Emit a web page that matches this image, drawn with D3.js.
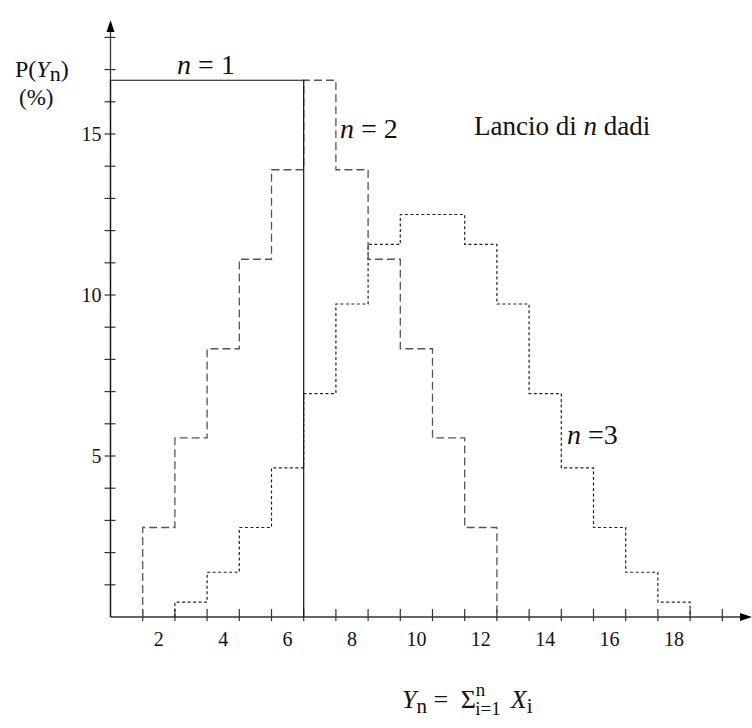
<!DOCTYPE html>
<html><head><meta charset="utf-8">
<script src="https://cdn.jsdelivr.net/npm/d3@7/dist/d3.min.js"></script>
<style>body{margin:0;background:#fff}svg{display:block}svg text{font-family:'Liberation Serif','Times New Roman',Times,serif}</style>
</head><body><svg id="c" width="752" height="728"></svg>
<script>
// Data (percent); the bar for value k is centred on k
const n1Values = [16.67, 16.67, 16.67, 16.67, 16.67, 16.67];           // Y = 1..6
const n1Start = 1;
const n2Values = [2.78, 5.56, 8.33, 11.11, 13.89, 16.67, 13.89, 11.11, 8.33, 5.56, 2.78]; // Y = 2..12
const n2Start = 2;
const n3Values = [0.46, 1.39, 2.78, 4.63, 6.94, 9.72, 11.57, 12.50, 12.50, 11.57, 9.72, 6.94, 4.63, 2.78, 1.39, 0.46]; // Y = 3..18
const n3Start = 3;
const xTickValues = d3.range(1.5, 20, 1);      // tick marks between bins
const xTickLabels = [2, 4, 6, 8, 10, 12, 14, 16, 18];
const yTickValues = d3.range(1, 19);
const yTickLabels = [5, 10, 15];

const svg = d3.select("#c");
const x = d3.scaleLinear().domain([0.5, 19.5]).range([110.5, 110.5 + 19 * 32.2]);
const y = d3.scaleLinear().domain([0, 18]).range([617, 617 - 18 * 32.2]);

const axisCol = "#333";
svg.append("line").attr("x1", x(0.5)).attr("x2", 742).attr("y1", y(0)).attr("y2", y(0)).attr("stroke", axisCol).attr("stroke-width", 1.3);
svg.append("line").attr("x1", x(0.5)).attr("x2", x(0.5)).attr("y1", y(0)).attr("y2", 30).attr("stroke", axisCol).attr("stroke-width", 1.3);
svg.append("path").attr("d", `M752,${y(0)} L740,${y(0) - 4} L740,${y(0) + 4} Z`).attr("fill", "#000");
svg.append("path").attr("d", `M${x(0.5)},20 L${x(0.5) - 4},32 L${x(0.5) + 4},32 Z`).attr("fill", "#000");

svg.append("g").selectAll("line").data(xTickValues).join("line")
  .attr("x1", d => x(d)).attr("x2", d => x(d)).attr("y1", y(0) - 8).attr("y2", y(0) + 4)
  .attr("stroke", axisCol).attr("stroke-width", 1.2);
svg.append("g").selectAll("text").data(xTickLabels).join("text")
  .attr("x", d => x(d)).attr("y", y(0) + 29).attr("text-anchor", "middle").attr("font-size", 20).attr("fill", "#111").text(d => d);
svg.append("g").selectAll("line").data(yTickValues).join("line")
  .attr("x1", x(0.5) - 6).attr("x2", x(0.5) + 5).attr("y1", d => y(d)).attr("y2", d => y(d))
  .attr("stroke", axisCol).attr("stroke-width", 1.2);
svg.append("g").selectAll("text").data(yTickLabels).join("text")
  .attr("x", x(0.5) - 9).attr("y", d => y(d) + 7).attr("text-anchor", "end").attr("font-size", 20).attr("fill", "#111").text(d => d);

function stepPath(start, vals) {
  const p = d3.path();
  p.moveTo(x(start - 0.5), y(0));
  vals.forEach((v, i) => { p.lineTo(x(start + i - 0.5), y(v)); p.lineTo(x(start + i + 0.5), y(v)); });
  p.lineTo(x(start + vals.length - 0.5), y(0));
  return p.toString();
}
svg.append("path").attr("d", stepPath(n3Start, n3Values)).attr("fill", "none").attr("stroke", "#222").attr("stroke-width", 1.2).attr("stroke-dasharray", "3,2.5");
svg.append("path").attr("d", stepPath(n2Start, n2Values)).attr("fill", "none").attr("stroke", "#555").attr("stroke-width", 1.3).attr("stroke-dasharray", "8,4");
svg.append("path").attr("d", stepPath(n1Start, n1Values)).attr("fill", "none").attr("stroke", "#111").attr("stroke-width", 1.2);

function rich(xp, yp, size, parts, anchor) {
  const t = svg.append("text").attr("x", xp).attr("y", yp).attr("font-size", size).attr("fill", "#111");
  if (anchor) t.attr("text-anchor", anchor);
  parts.forEach(p => {
    const s = t.append("tspan").text(p.t);
    if (p.i) s.attr("font-style", "italic");
    if (p.dy) s.attr("dy", p.dy);
    if (p.dx) s.attr("dx", p.dx);
    if (p.fs) s.attr("font-size", p.fs);
  });
  return t;
}
rich(15, 77, 24, [{t: "P("}, {t: "Y", i: 1}, {t: "n", dy: 4, fs: 22}, {t: ")", dy: -4}]);
rich(19, 105, 23, [{t: "(%)"}]);
rich(206, 74, 28, [{t: "n", i: 1}, {t: " = 1"}], "middle");
rich(340, 138, 28, [{t: "n", i: 1}, {t: " = 2"}]);
rich(474, 135, 27, [{t: "Lancio di "}, {t: "n", i: 1}, {t: " dadi"}]);
rich(567, 444, 28, [{t: "n", i: 1}, {t: " =3"}]);
rich(402, 708, 26, [{t: "Y", i: 1}, {t: "n", dy: 5, fs: 21}, {t: " = ", dy: -5}, {t: "Σ", dx: 6}, {t: "n", dy: -12, fs: 19}, {t: "i=1", dy: 19, dx: -10, fs: 19}, {t: "X", i: 1, dy: -7, dx: 10}, {t: "i", dy: 5, fs: 21}]);
</script></body></html>
